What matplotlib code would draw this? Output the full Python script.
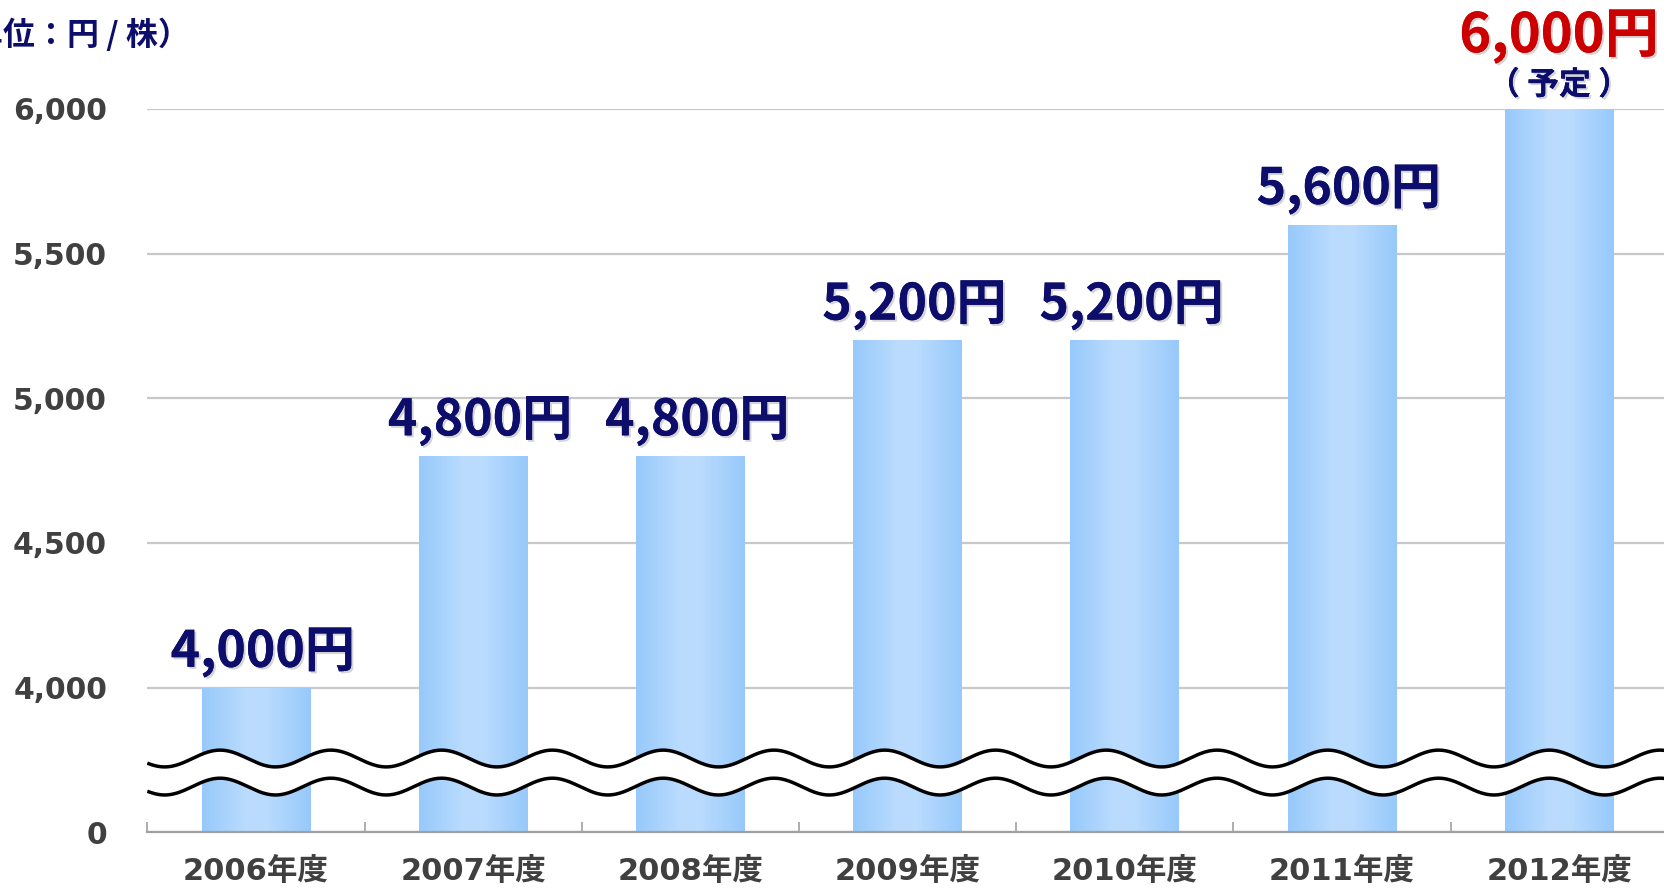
import matplotlib
matplotlib.use("Agg")
import matplotlib.pyplot as plt
import matplotlib.patheffects as pe
from matplotlib.colors import LinearSegmentedColormap
import numpy as np

plt.rcParams['font.family'] = ['Noto Sans CJK JP', 'DejaVu Sans']
WIDE = ['DejaVu Sans', 'Noto Sans CJK JP']

# dividend per share by fiscal year
years = ['2006年度', '2007年度', '2008年度', '2009年度', '2010年度', '2011年度', '2012年度']
dividends = [4000, 4800, 4800, 5200, 5200, 5600, 6000]
planned = [False, False, False, False, False, False, True]

# the axis is broken between 0 and 4,000: "0" sits one step below 4,000
AXIS_ZERO = 3500
ytick_vals = [3500, 4000, 4500, 5000, 5500, 6000]
ytick_labels = ['0', '4,000', '4,500', '5,000', '5,500', '6,000']

NAVY = '#0d0d6b'
RED = '#cc0000'
GREY_TXT = '#404040'

fig = plt.figure(figsize=(16.65, 8.92), dpi=100)
ax = fig.add_axes([147.3 / 1665, 1 - 832.3 / 892, 1520.4 / 1665, 723.3 / 892])

x = np.arange(len(years))
heights = [v - AXIS_ZERO for v in dividends]
bars = ax.bar(x, heights, bottom=AXIS_ZERO, width=0.5, color='#a8d2fd', zorder=2)

# horizontal light-blue gradient on each bar
cmap = LinearSegmentedColormap.from_list(
    'barfill', [(0, '#97c9fb'), (0.42, '#bbdcfe'), (0.6, '#b9dbfe'), (1, '#97c9fb')])
grad = np.linspace(0, 1, 256).reshape(1, -1)
for b in bars:
    im = ax.imshow(grad, cmap=cmap, aspect='auto', zorder=2.1,
                   extent=[b.get_x(), b.get_x() + b.get_width(),
                           b.get_y(), b.get_y() + b.get_height()])
    im.set_clip_path(b)

ax.set_xlim(-0.5, len(years) - 0.5)
ax.set_ylim(AXIS_ZERO, 6000)

# wavy break marks across the lower part of the bars
wx = np.linspace(-0.5, len(years) - 0.5, 1200)
period = 0.51
phase = -0.165
wave = 29 * np.cos(2 * np.pi * (wx - phase) / period)
upper = 3755 + wave
lower = 3658 + wave
ax.fill_between(wx, lower, upper, color='white', zorder=3)
ax.plot(wx, upper, color='black', lw=2.5, zorder=4, solid_capstyle='butt')
ax.plot(wx, lower, color='black', lw=2.5, zorder=4, solid_capstyle='butt')

# axes styling
for s in ['top', 'right', 'left']:
    ax.spines[s].set_visible(False)
ax.spines['bottom'].set_color('#a0a0a0')
ax.spines['bottom'].set_linewidth(1.6)
ax.spines['bottom'].set_zorder(5)

ax.set_yticks(ytick_vals)
ax.set_yticklabels(ytick_labels, family=WIDE, fontsize=21.5, fontweight='bold',
                   color=GREY_TXT)
ax.tick_params(axis='y', length=0, pad=29)
ax.yaxis.grid(True, color='#c8c8c8', lw=1.6)
ax.set_axisbelow(True)

ax.set_xticks(x)
ax.set_xticklabels(years, family=WIDE, fontsize=22, fontweight='bold', color=GREY_TXT)
ax.tick_params(axis='x', which='major', length=0, pad=18)
ax.set_xticks(np.arange(-0.5, len(years)), minor=True)
ax.tick_params(axis='x', which='minor', direction='in', length=7,
               width=1.2, color='#a0a0a0')

# value labels above bars
shadow = [pe.withSimplePatchShadow(offset=(1.5, -1.5), shadow_rgbFace='#888888', alpha=0.35),
          pe.Normal()]
for xi, v, p in zip(x, dividends, planned):
    if p:
        ax.annotate(f'{v:,}円', (xi, v), xytext=(0, 41), textcoords='offset points',
                    ha='center', va='baseline', fontsize=39, fontweight='bold',
                    color=RED, annotation_clip=False, path_effects=shadow)
        ax.annotate('（ 予定 ）', (xi, v), xytext=(0, 17), textcoords='offset points',
                    ha='center', va='center', fontsize=23, fontweight='bold',
                    color=NAVY, annotation_clip=False, path_effects=shadow)
    else:
        ax.annotate(f'{v:,}円', (xi, v), xytext=(5, 15), textcoords='offset points',
                    ha='center', va='baseline', fontsize=36, fontweight='bold',
                    color=NAVY, annotation_clip=False, path_effects=shadow)

# unit note in the top-left corner
fig.text(190 / 1665, 1 - 35 / 892, '（単位：円 / 株）', ha='right', va='center',
         fontsize=23, fontweight='bold', color=NAVY)

fig.savefig('out.png', dpi=100)
